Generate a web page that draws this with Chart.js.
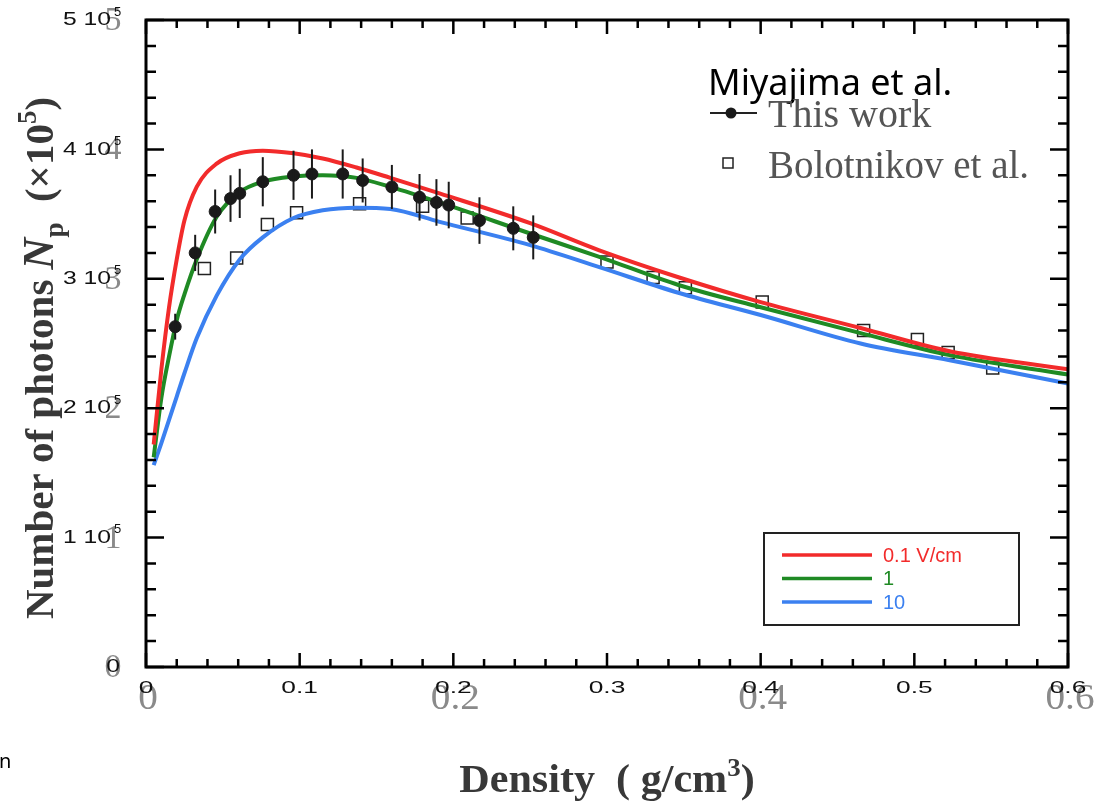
<!DOCTYPE html>
<html lang="en">
<head>
<meta charset="utf-8">
<title>Number of photons vs density</title>
<script src="https://cdn.jsdelivr.net/npm/chart.js@4.4.1/dist/chart.umd.min.js"></script>
<style>
  html, body { margin: 0; padding: 0; background: #fff; }
  #wrap { position: relative; width: 1095px; height: 803px; }
</style>
</head>
<body>
<div id="wrap"><canvas id="photons" width="1095" height="803"></canvas></div>
<script>
// values, photons in units of 1e5
const densCurve = [0.005, 0.010, 0.015, 0.020, 0.025, 0.033, 0.046, 0.061, 0.076, 0.096, 0.115, 0.137, 0.159, 0.191, 0.25, 0.295, 0.347, 0.40, 0.465, 0.523, 0.6];
const np01 = [1.72, 2.30, 2.78, 3.15, 3.45, 3.71, 3.89, 3.97, 3.99, 3.97, 3.93, 3.86, 3.78, 3.66, 3.43, 3.22, 3.01, 2.82, 2.62, 2.44, 2.30];
const np1  = [1.62, 2.08, 2.40, 2.68, 2.88, 3.15, 3.48, 3.67, 3.75, 3.79, 3.80, 3.78, 3.71, 3.59, 3.35, 3.17, 2.95, 2.78, 2.58, 2.41, 2.26];
const np10 = [1.56, 1.73, 1.91, 2.09, 2.27, 2.54, 2.87, 3.15, 3.32, 3.47, 3.53, 3.55, 3.54, 3.44, 3.26, 3.09, 2.89, 2.72, 2.50, 2.37, 2.19];

// "This work" measurements with error bars
const densWork = [0.019, 0.032, 0.045, 0.055, 0.061, 0.076, 0.096, 0.108, 0.128, 0.141, 0.160, 0.178, 0.189, 0.197, 0.217, 0.239, 0.252];
const npWork   = [2.63, 3.20, 3.52, 3.62, 3.66, 3.75, 3.80, 3.81, 3.81, 3.76, 3.71, 3.63, 3.59, 3.57, 3.45, 3.39, 3.32];
const errWork  = [0.10, 0.14, 0.17, 0.18, 0.19, 0.19, 0.19, 0.19, 0.19, 0.17, 0.17, 0.18, 0.18, 0.18, 0.18, 0.17, 0.17];

// Bolotnikov et al.
const densBolo = [0.038, 0.059, 0.079, 0.098, 0.139, 0.180, 0.209, 0.300, 0.330, 0.351, 0.401, 0.467, 0.502, 0.522, 0.551];
const npBolo   = [3.08, 3.16, 3.42, 3.51, 3.58, 3.56, 3.47, 3.13, 3.01, 2.93, 2.82, 2.60, 2.53, 2.43, 2.31];

const fieldLabels = ['0.1 V/cm', '1', '10'];
const xTickValues = [0, 0.1, 0.2, 0.3, 0.4, 0.5, 0.6];
const xTickLabels = ['0', '0.1', '0.2', '0.3', '0.4', '0.5', '0.6'];
const yTickValues = [0, 1, 2, 3, 4, 5];

const SERIF = '"Liberation Serif", "DejaVu Serif", serif';
const SANS = '"Liberation Sans", Arial, sans-serif';
const RED = '#f22b2b', GREEN = '#1f8a24', BLUE = '#3b80f0';

function pts(xs, ys) {
  return xs.map((v, i) => ({ x: v, y: ys[i] }));
}

function curve(label, ys, color, order) {
  return {
    label: label, data: pts(densCurve, ys), borderColor: color, backgroundColor: color,
    borderWidth: 4, pointRadius: 0, cubicInterpolationMode: 'monotone', order: order
  };
}

// text pieces: [text, font, dy]
function drawRich(ctx, parts, x, y) {
  let cx = x;
  parts.forEach(p => {
    ctx.font = p[1];
    ctx.fillText(p[0], cx, y + (p[2] || 0));
    cx += ctx.measureText(p[0]).width;
  });
}
function richWidth(ctx, parts) {
  let w = 0;
  parts.forEach(p => { ctx.font = p[1]; w += ctx.measureText(p[0]).width; });
  return w;
}
// the scanned figure is stretched sideways, so some text is too
function wideText(ctx, text, x, y, sx) {
  ctx.save();
  ctx.translate(x, y);
  ctx.scale(sx, 1);
  ctx.fillText(text, 0, 0);
  ctx.restore();
}

const decor = {
  id: 'decor',
  afterDatasetsDraw(chart) {
    const { ctx, scales: { x, y } } = chart;
    ctx.save();
    ctx.strokeStyle = '#1a1a1a';
    ctx.lineWidth = 2;
    densWork.forEach((d, i) => {
      const px = x.getPixelForValue(d);
      ctx.beginPath();
      ctx.moveTo(px, y.getPixelForValue(npWork[i] - errWork[i]));
      ctx.lineTo(px, y.getPixelForValue(npWork[i] + errWork[i]));
      ctx.stroke();
    });
    ctx.restore();
  },
  afterDraw(chart) {
    const { ctx, chartArea: a, scales: { x, y } } = chart;
    ctx.save();

    // frame
    ctx.strokeStyle = '#000';
    ctx.lineWidth = 3;
    ctx.strokeRect(a.left, a.top, a.right - a.left, a.bottom - a.top);

    // inward ticks
    ctx.lineWidth = 2.5;
    ctx.beginPath();
    for (let k = 0; k <= 25; k++) {
      const py = y.getPixelForValue(k * 0.2);
      const len = k % 5 === 0 ? 18 : 10;
      ctx.moveTo(a.left, py); ctx.lineTo(a.left + len, py);
      ctx.moveTo(a.right, py); ctx.lineTo(a.right - len, py);
    }
    for (let k = 0; k <= 30; k++) {
      const px = x.getPixelForValue(k * 0.02);
      const len = k % 5 === 0 ? 14 : 8;
      ctx.moveTo(px, a.bottom); ctx.lineTo(px, a.bottom - len);
      ctx.moveTo(px, a.top); ctx.lineTo(px, a.top + len);
    }
    ctx.stroke();

    // y tick labels (two overlapping sets, as in the figure)
    yTickValues.forEach(v => {
      const py = y.getPixelForValue(v);
      ctx.textBaseline = 'middle';
      ctx.fillStyle = '#8a8a8a';
      ctx.font = '34px ' + SERIF;
      ctx.textAlign = 'center';
      ctx.fillText(String(v), 113, py + 1);
      ctx.fillStyle = '#111';
      ctx.font = '19px ' + SANS;
      if (v === 0) {
        wideText(ctx, '0', 113, py, 1.3);
      } else {
        ctx.textAlign = 'right';
        wideText(ctx, v + ' 10', 111, py, 1.3);
        ctx.font = '13px ' + SANS;
        ctx.textAlign = 'left';
        ctx.fillText('5', 114, py - 8);
      }
    });

    // x tick labels
    xTickValues.forEach((v, i) => {
      const px = x.getPixelForValue(v);
      ctx.textAlign = 'center';
      ctx.textBaseline = 'middle';
      if (i % 2 === 0) {
        ctx.fillStyle = '#8a8a8a';
        ctx.font = '35px ' + SERIF;
        wideText(ctx, xTickLabels[i], px + 2, a.bottom + 33, 1.12);
      }
      ctx.fillStyle = '#111';
      ctx.font = '17px ' + SANS;
      wideText(ctx, xTickLabels[i], px, a.bottom + 21, 1.55);
    });

    // axis titles
    ctx.fillStyle = '#383838';
    ctx.textAlign = 'left';
    ctx.textBaseline = 'alphabetic';
    const big = 'bold 39px ' + SERIF, small = 'bold 25px ' + SERIF;
    const xt = [['Density  ( g/cm', big], ['3', small, -16], [')', big]];
    const xw = richWidth(ctx, xt) * 1.08;
    ctx.save();
    ctx.translate((a.left + a.right) / 2 - xw / 2, 792);
    ctx.scale(1.08, 1);
    drawRich(ctx, xt, 0, 0);
    ctx.restore();

    const yfont = 'bold 41px ' + SERIF;
    const yt = [['Number of photons ', yfont], ['N', 'italic bold 44px ' + SERIF],
                ['p', 'bold 27px ' + SERIF, 10], ['  (\u00d710', yfont], ['5', 'bold 27px ' + SERIF, -17], [')', yfont]];
    const yw = richWidth(ctx, yt);
    ctx.save();
    ctx.translate(53, 358);
    ctx.rotate(-Math.PI / 2);
    drawRich(ctx, yt, -yw / 2, 0);
    ctx.restore();

    // top-right legend
    ctx.fillStyle = '#000';
    ctx.font = '36px "Noto Sans", "Open Sans", sans-serif';
    ctx.fillText('Miyajima et al.', 708, 95);
    ctx.strokeStyle = '#222';
    ctx.lineWidth = 2;
    ctx.beginPath(); ctx.moveTo(710, 113); ctx.lineTo(757, 113); ctx.stroke();
    ctx.fillStyle = '#1a1a1a';
    ctx.beginPath(); ctx.arc(731, 113, 5.5, 0, Math.PI * 2); ctx.fill();
    ctx.lineWidth = 1.5;
    ctx.strokeRect(723, 158, 10, 10);
    ctx.fillStyle = '#555';
    ctx.font = '40px ' + SERIF;
    ctx.fillText('This work', 768, 127);
    ctx.font = '39px ' + SERIF;
    ctx.fillText('Bolotnikov et al.', 768, 178);

    // field legend box
    ctx.strokeStyle = '#222';
    ctx.lineWidth = 2;
    ctx.strokeRect(764, 533, 255, 92);
    const curves = chart.data.datasets.slice(0, 3);
    curves.forEach((ds, i) => {
      const ly = 555 + i * 23.5;
      ctx.strokeStyle = ds.borderColor;
      ctx.lineWidth = 3.5;
      ctx.beginPath(); ctx.moveTo(782, ly); ctx.lineTo(872, ly); ctx.stroke();
      ctx.fillStyle = ds.borderColor;
      ctx.font = '20px ' + SANS;
      ctx.textBaseline = 'middle';
      ctx.fillText(ds.label, 883, ly + 1);
    });

    // stray fragment at the lower left of the figure
    ctx.fillStyle = '#000';
    ctx.textBaseline = 'alphabetic';
    ctx.font = '20px "Noto Sans", sans-serif';
    ctx.fillText('n', -1, 768);

    ctx.restore();
  }
};

new Chart(document.getElementById('photons'), {
  type: 'line',
  data: {
    datasets: [
      curve(fieldLabels[0], np01, RED, 2),
      curve(fieldLabels[1], np1, GREEN, 3),
      curve(fieldLabels[2], np10, BLUE, 4),
      {
        label: 'This work', data: pts(densWork, npWork), showLine: false,
        pointStyle: 'circle', pointRadius: 6, backgroundColor: '#1a1a1a', borderColor: '#1a1a1a', order: 1
      },
      {
        label: 'Bolotnikov et al.', data: pts(densBolo, npBolo), showLine: false,
        pointStyle: 'rect', pointRadius: 8.5, borderWidth: 1.5, borderColor: '#222',
        backgroundColor: 'rgba(255,255,255,0)', order: 5
      }
    ]
  },
  options: {
    responsive: false,
    devicePixelRatio: 1,
    animation: false,
    layout: { padding: { left: 0, top: 20, right: 27, bottom: 0 } },
    plugins: { legend: { display: false }, tooltip: { enabled: false } },
    scales: {
      x: {
        type: 'linear', min: 0, max: 0.6,
        grid: { display: false }, border: { display: false }, ticks: { display: false },
        afterFit: s => { s.height = 136; }
      },
      y: {
        min: 0, max: 5,
        grid: { display: false }, border: { display: false }, ticks: { display: false },
        afterFit: s => { s.width = 146; }
      }
    }
  },
  plugins: [decor]
});
</script>
</body>
</html>
